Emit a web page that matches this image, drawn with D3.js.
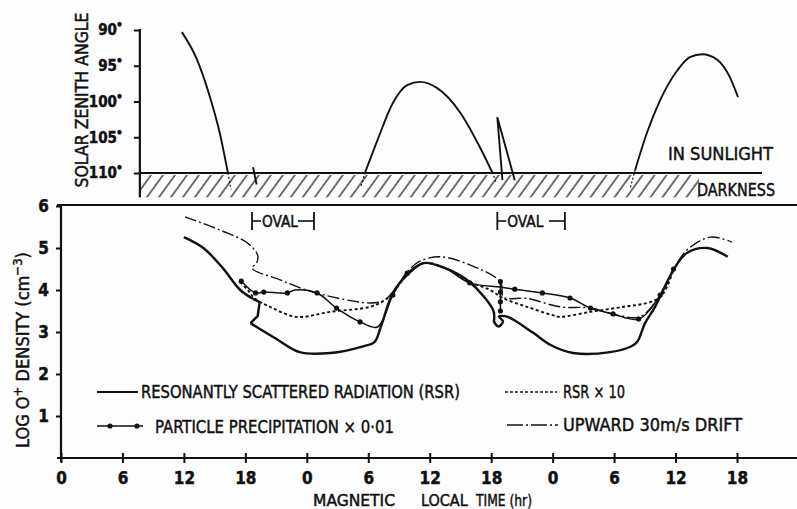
<!DOCTYPE html>
<html>
<head>
<meta charset="utf-8">
<script src="https://cdn.jsdelivr.net/npm/d3@7"></script>
<style>
  body { margin: 0; background: #fdfdfd; }
  svg { display: block; }
  text { font-family: "DejaVu Sans Condensed", "Liberation Sans", sans-serif; fill: #111; stroke: #111; stroke-width: 0.45px; }
</style>
</head>
<body>
<svg id="chart"></svg>
<script>
// time is continuous MLT hours along the orbit, 0..66 (labels wrap at 24)
const timeTicks = [0, 6, 12, 18, 24, 30, 36, 42, 48, 54, 60, 66];
const densityTicks = [1, 2, 3, 4, 5, 6];
const szaTicks = [90, 95, 100, 105, 110];

// solar zenith angle along the trajectory
const szaPass1 = [[11.8, 90.3], [13.3, 94.2], [14.55, 99.4], [15.5, 104.4], [16.3, 110]];
const szaPass2 = [[29.7, 109.9], [30.9, 105.4], [32.4, 100.2], [33.8, 97.7], [35.05, 97.25], [36.7, 98.1], [39.0, 101.6], [40.9, 106.4], [42.1, 109.9]];
const szaSpike = [[43.1, 111.0], [42.6, 102.2], [44.3, 111.0]];
const szaPass3 = [[56.05, 109.6], [57.2, 104.4], [58.5, 99.8], [60.2, 95.6], [61.4, 93.8], [62.6, 93.4], [64.1, 94.2], [65.3, 96.6], [66.1, 99.4]];
const szaMark = [[18.75, 109.2], [19.1, 111.6]];
const szaDarkTails = [
  [[16.3, 110], [16.6, 112.3]],
  [[29.3, 111.8], [29.7, 109.9]],
  [[42.1, 109.9], [42.5, 111.4]],
  [[55.6, 112.0], [56.05, 109.6]]
];

// log O+ density, resonantly scattered radiation (dusk descent, oval hook, rest)
const rsrDusk = [[12.0, 5.26], [13.9, 5.0], [15.8, 4.52], [17.5, 4.0], [18.75, 3.79]];
const rsrHook = [[18.75, 3.79], [19.4, 3.71], [19.2, 3.38], [18.5, 3.21]];
const rsrRest = [[18.5, 3.21], [21.0, 2.84], [23.3, 2.52], [26.3, 2.5], [29.5, 2.66], [30.6, 2.76],
  [31.2, 3.1], [32.4, 3.93], [33.8, 4.36], [35.4, 4.64], [37.5, 4.52], [39.9, 4.19], [42.2, 3.52],
  [42.3, 3.33], [42.28, 3.25], [42.72, 3.13], [43.15, 3.25], [42.75, 3.37], [43.6, 3.36], [46.1, 2.98],
  [47.8, 2.69], [50.0, 2.5], [53.6, 2.52], [55.7, 2.66], [56.3, 2.78], [57.0, 3.2], [58.0, 3.6],
  [59.8, 4.48], [61.1, 4.88], [63.1, 5.0], [65.1, 4.79]];
// RSR x 10
const rsr10 = [[17.5, 4.19], [18.3, 3.98], [18.9, 3.8], [20.4, 3.6], [23.0, 3.36], [26.3, 3.48], [30.2, 3.6],
  [31.5, 3.74], [32.4, 3.93], [33.8, 4.36], [35.4, 4.64], [37.5, 4.52], [39.9, 4.19], [41.9, 4.0], [43.2, 3.8],
  [45.5, 3.6], [48.0, 3.4], [48.7, 3.36], [51.7, 3.48], [54.9, 3.6], [57.5, 3.71], [58.7, 3.88], [59.8, 4.48]];
// particle precipitation x 0.01 (third value: 1 = plotted point)
const precip = [[17.6, 4.21, 1], [19.0, 3.93, 1], [19.8, 3.95, 1], [22.1, 3.93, 1], [22.85, 4.0, 0], [25.0, 3.93, 1],
  [26.9, 3.57, 1], [29.2, 3.24, 1], [30.9, 3.12, 0], [32.4, 3.88, 1], [33.8, 4.4, 1], [35.4, 4.64, 0], [37.5, 4.52, 0],
  [39.9, 4.17, 1], [42.9, 4.07, 0], [44.3, 4.02, 1], [47.0, 3.93, 1], [49.7, 3.81, 1], [51.7, 3.57, 1],
  [53.9, 3.43, 1], [56.4, 3.31, 1], [58.5, 3.88, 1], [59.8, 4.5, 1]];
const precipJump = [[42.9, 4.2], [42.9, 3.95], [42.9, 3.72], [42.9, 3.5]];
// upward 30 m/s drift
const drift = [[12.1, 5.74], [15.5, 5.43], [18.2, 5.12], [19.2, 4.83], [19.1, 4.64], [18.65, 4.52], [21.4, 4.24],
  [24.6, 3.95], [30.2, 3.69], [31.5, 3.75], [32.4, 3.95], [33.8, 4.43], [35.0, 4.68], [37.0, 4.79], [39.9, 4.6],
  [42.9, 4.19], [43.2, 3.83], [45.5, 3.8], [48.7, 3.6], [51.7, 3.57], [54.3, 3.4], [56.5, 3.36], [58.0, 3.7],
  [59.8, 4.48], [61.1, 4.95], [63.4, 5.26], [65.5, 5.14]];

const ovals = [[18.65, 24.7], [42.6, 49.2]];
const darkSpan = [7.7, 62.3];

const W = 797, H = 509;
const svg = d3.select("#chart").attr("width", W).attr("height", H);
const ink = "#111";

let x = d3.scaleLinear().domain([0, 66]).range([61, 737]);
let yLow = d3.scaleLinear().domain([0, 6]).range([458, 206]);
let ySza = d3.scaleLinear().domain([90, 110]).range([30, 173]);

// ---- upper panel: solar zenith angle ----
let defs = svg.append("defs");
defs.append("pattern")
    .attr("id", "hatch")
    .attr("patternUnits", "userSpaceOnUse")
    .attr("width", 9.7).attr("height", 40)
    .attr("patternTransform", "rotate(36)")
  .append("line")
    .attr("x1", 2).attr("x2", 2).attr("y1", 0).attr("y2", 40)
    .attr("stroke", ink).attr("stroke-width", 1.2);

svg.append("rect")
   .attr("x", x(darkSpan[0])).attr("y", ySza(110) + 2)
   .attr("width", x(darkSpan[1]) - x(darkSpan[0]))
   .attr("height", ySza(113.4) - ySza(110) - 2)
   .attr("fill", "url(#hatch)");

svg.append("line")
   .attr("x1", x(darkSpan[0])).attr("x2", 762)
   .attr("y1", ySza(110)).attr("y2", ySza(110))
   .attr("stroke", ink).attr("stroke-width", 1.8);

let szaAxis = svg.append("g")
   .attr("transform", `translate(${x(darkSpan[0])},0)`)
   .call(d3.axisLeft(ySza).tickValues(szaTicks).tickSize(6).tickPadding(11).tickFormat(d => d));
szaAxis.select(".domain").remove();
szaAxis.selectAll(".tick line").attr("stroke", ink).attr("stroke-width", 2);
szaAxis.selectAll(".tick text")
   .attr("font-size", 15).attr("font-weight", "bold")
   .append("tspan").attr("font-size", 12).attr("dy", -6).attr("dx", -1).text("•");
svg.append("line")
   .attr("x1", x(darkSpan[0])).attr("x2", x(darkSpan[0]))
   .attr("y1", ySza(90) - 1).attr("y2", ySza(113.4))
   .attr("stroke", ink).attr("stroke-width", 2.2);

let szaLine = d3.line().x(d => x(d[0])).y(d => ySza(d[1])).curve(d3.curveMonotoneX);
let szaStraight = d3.line().x(d => x(d[0])).y(d => ySza(d[1]));
[szaPass1, szaPass2, szaPass3].forEach(p => {
  svg.append("path").attr("d", szaLine(p)).attr("fill", "none").attr("stroke", ink).attr("stroke-width", 1.9);
});
[szaSpike, szaMark].forEach(p => {
  svg.append("path").attr("d", szaStraight(p)).attr("fill", "none").attr("stroke", ink).attr("stroke-width", 1.9);
});
szaDarkTails.forEach(p => {
  svg.append("path").attr("d", szaStraight(p)).attr("fill", "none").attr("stroke", ink)
     .attr("stroke-width", 1.2).attr("stroke-dasharray", "2,2");
});

svg.append("text").attr("x", 668).attr("y", 160).attr("font-size", 18)
   .attr("textLength", 105).attr("lengthAdjust", "spacingAndGlyphs").text("IN  SUNLIGHT");
svg.append("text").attr("x", 697).attr("y", 196).attr("font-size", 17)
   .attr("textLength", 78).attr("lengthAdjust", "spacingAndGlyphs").text("DARKNESS");

svg.append("text")
   .attr("transform", "translate(88,100) rotate(-90)")
   .attr("text-anchor", "middle").attr("font-size", 18)
   .attr("textLength", 175).attr("lengthAdjust", "spacingAndGlyphs")
   .text("SOLAR  ZENITH  ANGLE");

// ---- lower panel: O+ density ----
svg.append("line").attr("x1", 57).attr("x2", W).attr("y1", yLow(6) - 1).attr("y2", yLow(6) - 1)
   .attr("stroke", ink).attr("stroke-width", 2.2);
svg.append("line").attr("x1", 57).attr("x2", W).attr("y1", yLow(0)).attr("y2", yLow(0))
   .attr("stroke", ink).attr("stroke-width", 2.2);
svg.append("line").attr("x1", x(0)).attr("x2", x(0)).attr("y1", yLow(6) - 1).attr("y2", yLow(0) + 4)
   .attr("stroke", ink).attr("stroke-width", 2.2);

let xAxis = svg.append("g")
   .attr("transform", `translate(0,${yLow(0)})`)
   .call(d3.axisBottom(x).tickValues(timeTicks).tickSize(5).tickPadding(9).tickFormat(d => d % 24));
xAxis.select(".domain").remove();
xAxis.selectAll(".tick line").attr("y1", -5).attr("stroke", ink).attr("stroke-width", 2);
xAxis.selectAll(".tick text").attr("font-size", 17).attr("font-weight", "bold");

let yAxis = svg.append("g")
   .attr("transform", `translate(${x(0)},0)`)
   .call(d3.axisLeft(yLow).tickValues(densityTicks).tickSize(5).tickPadding(7).tickFormat(d => d));
yAxis.select(".domain").remove();
yAxis.selectAll(".tick line").attr("stroke", ink).attr("stroke-width", 2);
yAxis.selectAll(".tick text").attr("font-size", 17).attr("font-weight", "bold");

let yTitle = svg.append("text")
   .attr("transform", "translate(29,350) rotate(-90)")
   .attr("text-anchor", "middle").attr("font-size", 18);
yTitle.append("tspan").text("LOG  O");
yTitle.append("tspan").attr("dy", -7).attr("font-size", 13).text("+");
yTitle.append("tspan").attr("dy", 7).text(" DENSITY (cm");
yTitle.append("tspan").attr("dy", -7).attr("font-size", 13).text("−3");
yTitle.append("tspan").attr("dy", 7).text(")");

// axis title, three words spread out as in the original
svg.append("text").attr("x", 313).attr("y", 506).attr("font-size", 16)
   .attr("textLength", 82).attr("lengthAdjust", "spacingAndGlyphs").text("MAGNETIC");
svg.append("text").attr("x", 421).attr("y", 506).attr("font-size", 16).text("LOCAL");
svg.append("text").attr("x", 476).attr("y", 506).attr("font-size", 16)
   .attr("textLength", 56).attr("lengthAdjust", "spacingAndGlyphs").text("TIME (hr)");

// oval markers
let ovalY = 221;
ovals.forEach(o => {
  let g = svg.append("g");
  let x0 = x(o[0]), x1 = x(o[1]);
  g.append("line").attr("x1", x0).attr("x2", x0).attr("y1", ovalY - 9).attr("y2", ovalY + 9)
   .attr("stroke", ink).attr("stroke-width", 1.8);
  g.append("line").attr("x1", x1).attr("x2", x1).attr("y1", ovalY - 9).attr("y2", ovalY + 9)
   .attr("stroke", ink).attr("stroke-width", 1.8);
  g.append("line").attr("x1", x0).attr("x2", x0 + 9).attr("y1", ovalY).attr("y2", ovalY)
   .attr("stroke", ink).attr("stroke-width", 1.6);
  g.append("line").attr("x1", x1 - 16).attr("x2", x1).attr("y1", ovalY).attr("y2", ovalY)
   .attr("stroke", ink).attr("stroke-width", 1.6);
  g.append("text").attr("x", x0 + 10).attr("y", ovalY + 6).attr("font-size", 15)
   .attr("textLength", 36).attr("lengthAdjust", "spacingAndGlyphs").text("OVAL");
});

let densLine = d3.line().x(d => x(d[0])).y(d => yLow(d[1])).curve(d3.curveCatmullRom.alpha(0.5));
let densStraight = d3.line().x(d => x(d[0])).y(d => yLow(d[1]));

svg.append("path").attr("d", densLine(rsr10)).attr("fill", "none")
   .attr("stroke", ink).attr("stroke-width", 1.9).attr("stroke-dasharray", "3,2.5");
svg.append("path").attr("d", densLine(drift)).attr("fill", "none")
   .attr("stroke", ink).attr("stroke-width", 1.4).attr("stroke-dasharray", "12,3,2,3");
svg.append("path").attr("d", densLine(precip)).attr("fill", "none")
   .attr("stroke", ink).attr("stroke-width", 1.5);
svg.append("path").attr("d", densStraight(precipJump)).attr("fill", "none")
   .attr("stroke", ink).attr("stroke-width", 1.5);
svg.selectAll(".ppdot").data(precip.filter(d => d[2]).concat(precipJump)).enter()
   .append("circle").attr("class", "ppdot")
   .attr("cx", d => x(d[0])).attr("cy", d => yLow(d[1])).attr("r", 2.6).attr("fill", ink);
svg.append("path").attr("d", densLine(rsrDusk)).attr("fill", "none")
   .attr("stroke", ink).attr("stroke-width", 2.4);
svg.append("path").attr("d", densStraight(rsrHook)).attr("fill", "none")
   .attr("stroke", ink).attr("stroke-width", 2.4).attr("stroke-linejoin", "round");
svg.append("path").attr("d", densLine(rsrRest)).attr("fill", "none")
   .attr("stroke", ink).attr("stroke-width", 2.4);

// legend
let legend = [
  {x: 97, y: 392, w: 41, tx: 141, ty: 398, tl: 319, label: "RESONANTLY SCATTERED RADIATION (RSR)", dash: null, sw: 2.2},
  {x: 97, y: 426, w: 46, tx: 155, ty: 433, tl: 239, label: "PARTICLE  PRECIPITATION × 0·01", dash: null, sw: 1.5, dots: true},
  {x: 505, y: 392, w: 52, tx: 563, ty: 398, tl: 62, label: "RSR × 10", dash: "3,2", sw: 1.6},
  {x: 507, y: 425, w: 51, tx: 563, ty: 431, tl: 179, label: "UPWARD  30m/s  DRIFT", dash: "16,3,2,3", sw: 1.4}
];
legend.forEach(l => {
  svg.append("line").attr("x1", l.x).attr("x2", l.x + l.w).attr("y1", l.y).attr("y2", l.y)
     .attr("stroke", ink).attr("stroke-width", l.sw).attr("stroke-dasharray", l.dash);
  if (l.dots) {
    [l.x + 13, l.x + 40].forEach(cx => svg.append("circle").attr("cx", cx).attr("cy", l.y).attr("r", 2.6).attr("fill", ink));
  }
  svg.append("text").attr("x", l.tx).attr("y", l.ty).attr("font-size", 18)
     .attr("textLength", l.tl).attr("lengthAdjust", "spacingAndGlyphs").text(l.label);
});
</script>
</body>
</html>
